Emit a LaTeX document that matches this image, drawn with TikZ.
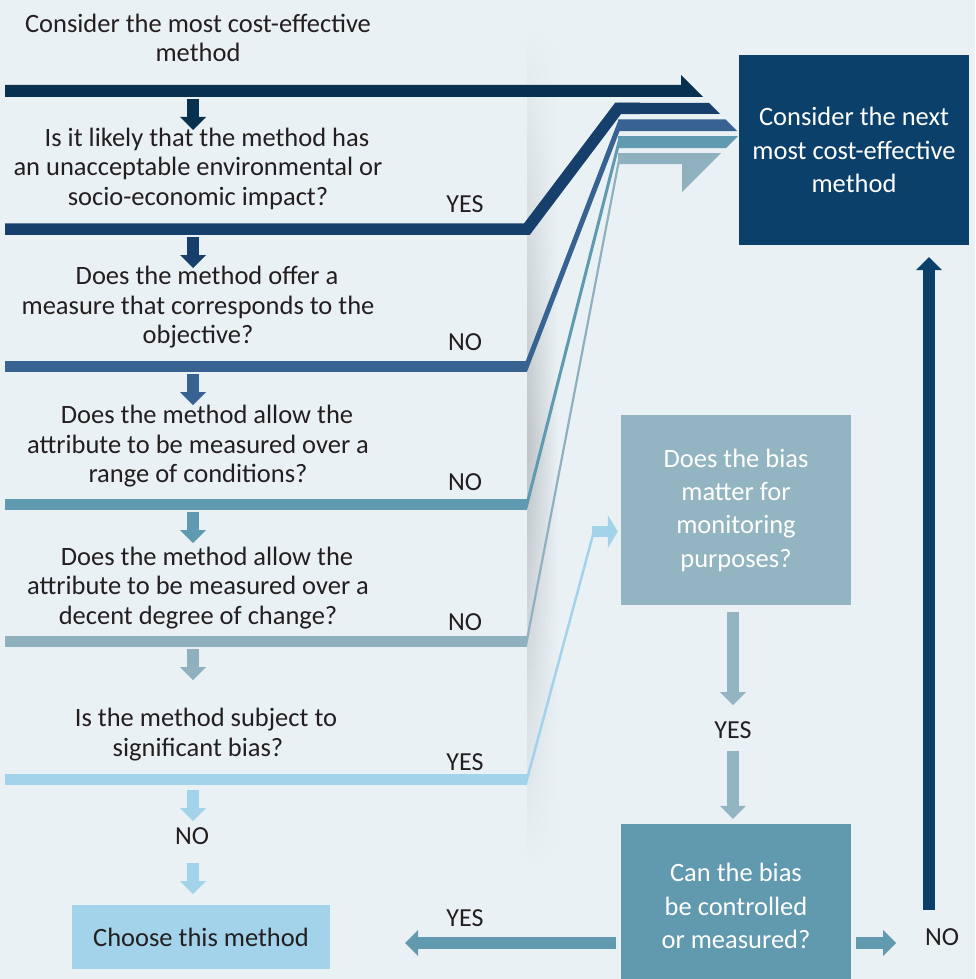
\documentclass[tikz,border=0pt]{standalone}
\usepackage{fontspec}
\setmainfont{Carlito}
\usetikzlibrary{arrows.meta,calc}

\definecolor{bg}{HTML}{EAF1F4}
\definecolor{ink}{HTML}{231F20}
\definecolor{cA}{HTML}{07314F}
\definecolor{cB}{HTML}{173F6B}
\definecolor{cC}{HTML}{376291}
\definecolor{cD}{HTML}{5F9AB0}
\definecolor{cE}{HTML}{8FB1BF}
\definecolor{cF}{HTML}{A3D3EA}
\definecolor{navybox}{HTML}{0B406B}
\definecolor{biasbox}{HTML}{93B4C1}
\definecolor{ctrlbox}{HTML}{6199AF}
\definecolor{shade}{HTML}{BFC5C9}

\tikzset{
  qtext/.style={text=ink, align=center, inner sep=0pt, font=\fontsize{26.5}{29.5}\selectfont},
  lbl/.style={text=ink, inner sep=0pt, font=\fontsize{26}{28}\selectfont},
  boxtext/.style={text=white, align=center, inner sep=0pt, font=\fontsize{26.5}{33.3}\selectfont},
  fatarrow/.style={line width=11.5pt, -{Triangle[width=26pt,length=13pt,line width=0pt]}},
}

\begin{document}
\begin{tikzpicture}[x=1pt,y=-1pt]
  \useasboundingbox (0,0) rectangle (975,979);
  \fill[bg] (0,0) rectangle (975,979);

  % fold shadow behind the connectors: thin strips fading to the right
  \foreach \k in {0,...,9} {
    \pgfmathsetmacro\amt{100-\k*10}
    \fill[top color=bg, bottom color=bg, middle color=shade!\amt!bg]
      (527+\k*3,25) rectangle (530.2+\k*3,870);
  }

  % question bars on the left and the strips of the combined arrow head
  \fill[cA] (5,85) -- (681,85) -- (681,75) -- (703,97) -- (5,97) -- cycle;

  \draw[cB, line width=11.5pt, line join=miter] (5,229) -- (527,229) -- (618,108.5) -- (640,108.5);
  \fill[cB] (618,103) -- (709,103) -- (720,114) -- (618,114) -- cycle;

  \fill[cC] (5,361) rectangle (527,372);
  \draw[cC, line width=5pt] (525,370) -- (620,123);
  \fill[cC] (618,119.5) -- (725.5,119.5) -- (737,131) -- (618,131) -- cycle;

  \fill[cD] (5,499) rectangle (527,510);
  \draw[cD, line width=3pt] (526,508) -- (620,138);
  \fill[cD] (618,136) -- (738,136) -- (726,148) -- (618,148) -- cycle;

  \fill[cE] (5,636) rectangle (527,647);
  \draw[cE, line width=2.2pt] (526,645) -- (620,155);
  \fill[cE] (618,153) -- (721,153) -- (682,192) -- (682,164) -- (618,164) -- cycle;

  \fill[cF] (5,774) rectangle (527,785);

  % small arrows down the left column
  \draw[fatarrow, cA] (193,99) -- (193,130);
  \draw[fatarrow, cB] (193,237) -- (193,268);
  \draw[fatarrow, cC] (193,374) -- (193,405);
  \draw[fatarrow, cD] (193,512) -- (193,543);
  \draw[fatarrow, cE] (193,649) -- (193,680);
  \draw[fatarrow, cF] (193,790) -- (193,821);
  \draw[fatarrow, cF] (193,863) -- (193,894);

  % question texts
  \node[qtext] (top) at (198,38) {Consider the most cost-effective\\method};
  \node[qtext] (q1) at (198,168.5) {\hspace*{18pt}Is it likely that the method has\\an unacceptable environmental or\\socio-economic impact?};
  \node[qtext] (q2) at (198,307.5) {\hspace*{18pt}Does the method offer a\\measure that corresponds to the\\objective?};
  \node[qtext] (q3) at (198,446.5) {\hspace*{18pt}Does the method allow the\\attribute to be measured over a\\range of conditions?};
  \node[qtext] (q4) at (198,588) {\hspace*{18pt}Does the method allow the\\attribute to be measured over a\\decent degree of change?};
  \node[qtext] (q5) at (198,734.5) {\hspace*{16pt}Is the method subject to\\significant bias?};

  \node[lbl] (a1) at (465,204) {YES};
  \node[lbl] (a2) at (465,342) {NO};
  \node[lbl] (a3) at (465,482) {NO};
  \node[lbl] (a4) at (465,622) {NO};
  \node[lbl] (a5) at (465,762) {YES};
  \node[lbl] (a6) at (192,836) {NO};

  % boxes
  \node[fill=navybox, minimum width=230pt, minimum height=190pt, boxtext] (next) at (854,150)
    {Consider the next\\most cost-effective\\method};
  \node[fill=biasbox, minimum width=230pt, minimum height=190pt, boxtext] (bias) at (736,510)
    {Does the bias\\matter for\\monitoring\\purposes?};
  \node[fill=ctrlbox, minimum width=230pt, minimum height=164pt, boxtext] (ctrl) at (736,906)
    {Can the bias\\be controlled\\or measured?};
  \node[fill=cF, minimum width=258pt, minimum height=64pt, qtext] (choose) at (201,937)
    {Choose this method};

  % significant bias leads to the bias box
  \draw[cF, line width=2.5pt] (526,783) -- (594,531);
  \draw[cF, line width=11pt, -{Triangle[width=33pt,length=10pt,line width=0pt]}]
    (592,531.5) -- ($(bias.west)+(-3,21.5)$);

  % connectors on the right
  \node[lbl] (yb) at (733,730) {YES};
  \draw[fatarrow, biasbox] ($(bias.south)+(-3,7)$) -- ($(bias.south)+(-3,100)$);
  \draw[fatarrow, biasbox] ($(ctrl.north)+(-3,-73)$) -- ($(ctrl.north)+(-3,-5)$);

  \node[lbl] (yc) at (465,918) {YES};
  \draw[fatarrow, ctrlbox] ($(ctrl.west)+(-5,37)$) -- ($(choose.east)+(75,6)$);

  \node[lbl] (nc) at (942,937) {NO};
  \draw[fatarrow, ctrlbox] ($(ctrl.east)+(5,37)$) -- ($(ctrl.east)+(45,37)$);
  \draw[fatarrow, navybox] ($(next.south)+(75,665)$) -- ($(next.south)+(75,12)$);
\end{tikzpicture}
\end{document}
